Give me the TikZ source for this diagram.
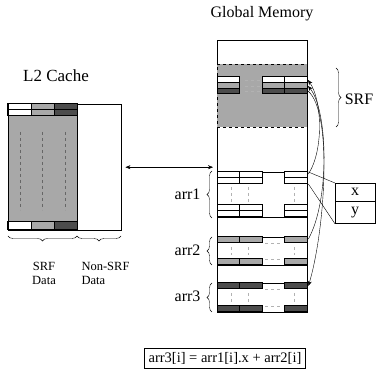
\documentclass[tikz,border=0pt]{standalone}
\usepackage{fontspec}
\setmainfont{Liberation Serif}
\usetikzlibrary{arrows.meta,decorations.pathreplacing}

\definecolor{cellgray}{gray}{0.66}
\definecolor{celldark}{gray}{0.3}

\begin{document}
\begin{tikzpicture}[x=1pt, y=-1pt, font=\fontsize{16}{18}\selectfont,
    cell/.style={draw, line width=1pt},
    blockline/.style={draw, line width=1.4pt},
    faint/.style={gray!60, dashed, line width=0.5pt},
    brace/.style={decorate, decoration={brace, amplitude=5pt}, thin},
    small/.style={font=\fontsize{12.5}{14}\selectfont, align=center},
    >={Stealth[length=5pt, width=4pt]}]
    \useasboundingbox (0,0) rectangle (384,379);

    % global memory
    \node (gmemlbl) at (262,14) {Global Memory};
    \node[draw, minimum width=90pt, minimum height=272pt, inner sep=0, anchor=north west] (gmem) at (217,40) {};
    \node[draw, dashed, fill=cellgray, minimum width=90pt, minimum height=63pt, inner sep=0, anchor=north west] (srf) at (217,64) {};
    \foreach \y/\c in {77/white, 83/cellgray, 88.5/celldark}{
        \foreach \x in {217,262,284.5}
            \draw[cell, fill=\c] (\x,\y) rectangle ++(22.5,5.5);
        \draw[faint] (245,\y+3) -- (260,\y+3);
    }
    \draw[brace] (336,68) -- (336,127);
    \node (srflbl) at (359,99) {SRF};

    % arrays
    \node[blockline, minimum width=90pt, minimum height=45pt, inner sep=0, anchor=north west] (arr1) at (217,172) {};
    \foreach \y in {172,178,205,211}
        \foreach \x in {217,239.5,284.5}
            \draw[cell, fill=white] (\x,\y) rectangle ++(22.5,6);
    \foreach \x in {231,248,294}
        \draw[faint] (\x,187) -- (\x,202);

    \node[blockline, minimum width=90pt, minimum height=28pt, inner sep=0, anchor=north west] (arr2) at (217,237) {};
    \foreach \y in {237,259}
        \foreach \x in {217,239.5,284.5}
            \draw[cell, fill=cellgray] (\x,\y) rectangle ++(22.5,6);
    \draw[faint] (265,243.5) -- (282,243.5);
    \draw[faint] (265,259.5) -- (282,259.5);
    \foreach \x in {231,248,294}
        \draw[faint] (\x,247) -- (\x,255);

    \node[blockline, minimum width=90pt, minimum height=29pt, inner sep=0, anchor=north west] (arr3) at (217,283) {};
    \foreach \y in {283,306}
        \foreach \x in {217,239.5,284.5}
            \draw[cell, fill=celldark] (\x,\y) rectangle ++(22.5,6);
    \draw[faint] (265,289.5) -- (282,289.5);
    \draw[faint] (265,306.5) -- (282,306.5);
    \foreach \x in {231,248,294}
        \draw[faint] (\x,293) -- (\x,302);

    \draw[brace] (212,218) -- (212,171);
    \node[anchor=east] (arr1lbl) at (204,194) {arr1};
    \draw[brace] (212,265) -- (212,237);
    \node[anchor=east] (arr2lbl) at (204,250) {arr2};
    \draw[brace] (212,312) -- (212,283);
    \node[anchor=east] (arr3lbl) at (204,296) {arr3};

    % record fields
    \node[draw, minimum width=40pt, minimum height=18pt, inner sep=0, anchor=north west] (xcell) at (335,183) {x};
    \node[draw, minimum width=40pt, minimum height=22pt, inner sep=0, anchor=north] (ycell) at (xcell.south) {y};
    \draw (arr1.north east) -- (xcell.north west);
    \draw ([yshift=-12pt]arr1.north east) -- (ycell.south west);

    % streams in and out of the SRF
    \coordinate (srfa) at (308,80);
    \coordinate (srfb) at (308,86);
    \coordinate (srfc) at (308,91);
    \draw[->] ([yshift=-2pt]arr1.north east) .. controls (324,150) and (322,100) .. (srfa);
    \draw[->] ([yshift=-2pt]arr2.north east) .. controls (330,200) and (328,110) .. (srfb);
    \draw[->] (srfc) .. controls (333,112) and (325,230) .. ([yshift=-3pt]arr3.north east);

    % L2 cache
    \node[font=\fontsize{17}{19}\selectfont] (l2lbl) at (56,76) {L2 Cache};
    \node[draw, minimum width=113pt, minimum height=126pt, inner sep=0, anchor=north west] (l2) at (8,104) {};
    \node[blockline, fill=cellgray, minimum width=69pt, minimum height=126pt, inner sep=0, anchor=north west] (l2srf) at (8,104) {};
    \foreach \x/\c in {8/white, 31/cellgray, 54/celldark}{
        \draw[cell, fill=\c] (\x,104) rectangle ++(23,6);
        \draw[cell, fill=\c] (\x,110) rectangle ++(23,6);
        \draw[cell, fill=\c] (\x,222) rectangle ++(23,8);
    }
    \foreach \x in {20,42,65}
        \draw[dashed, black!60] (\x,132) -- (\x,210);
    \draw[brace] (77,236) -- (8,236);
    \draw[brace] (121,236) -- (77,236);
    \node[small] (srfdata) at (44,273) {SRF\\Data};
    \node[small, align=left, anchor=west] (nonsrf) at (78,273) {Non-SRF\\Data};

    \draw[<->] ([xshift=4pt]l2.east) -- ([xshift=-4pt]l2.east -| gmem.west);

    % kernel
    \node[draw, inner sep=4pt, font=\fontsize{14.5}{16}\selectfont] (formula) at (225,358) {arr3[i] = arr1[i].x + arr2[i]};
\end{tikzpicture}
\end{document}
